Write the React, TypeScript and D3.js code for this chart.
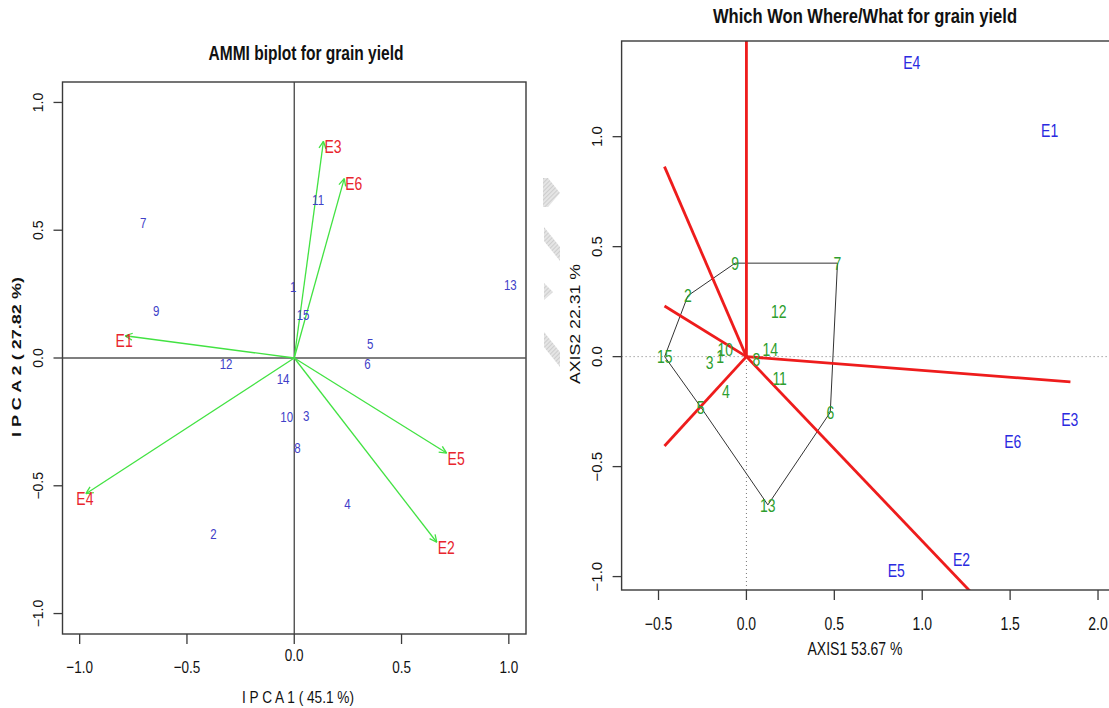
import { scaleLinear, format } from 'd3'

const FONT = '"Liberation Sans", Arial, Helvetica, sans-serif'
// the source picture is stretched vertically, so horizontal text gets a y-stretch
const SY = 1.28

// ---- left: AMMI biplot ----
const genotypes = ['1', '2', '3', '4', '5', '6', '7', '8', '9', '10', '11', '12', '13', '14', '15']
const ammiPC1 = [-0.005, -0.376, 0.056, 0.248, 0.354, 0.341, -0.704, 0.015, -0.643, -0.035, 0.111, -0.318, 1.007, -0.052, 0.041]
const ammiPC2 = [0.279, -0.689, -0.225, -0.572, 0.053, -0.025, 0.53, -0.353, 0.184, -0.229, 0.617, -0.025, 0.285, -0.082, 0.168]
const environments = ['E1', 'E2', 'E3', 'E4', 'E5', 'E6']
const ammiEnvPC1 = [-0.788, 0.664, 0.136, -0.971, 0.71, 0.233]
const ammiEnvPC2 = [0.087, -0.721, 0.848, -0.531, -0.372, 0.702]
const ammiTicks = [-1, -0.5, 0, 0.5, 1]

// ---- right: which won where ----
const ggeAxis1 = [-0.149, -0.333, -0.209, -0.117, -0.26, 0.477, 0.518, 0.057, -0.064, -0.12, 0.189, 0.184, 0.122, 0.136, -0.465]
const ggeAxis2 = [0.003, 0.277, -0.024, -0.158, -0.229, -0.253, 0.425, -0.014, 0.425, 0.034, -0.097, 0.205, -0.674, 0.032, 0.0]
const hullOrder = ['9', '7', '6', '13', '5', '15', '2']
const ggeEnvAxis1 = [1.725, 1.224, 1.839, 0.941, 0.852, 1.515]
const ggeEnvAxis2 = [1.03, -0.921, -0.285, 1.338, -0.97, -0.386]
const sectorX = [0, -0.466, -0.466, -0.466, 1.843, 1.33]
const sectorY = [1.6, 0.864, 0.23, -0.406, -0.115, -1.115]
const ggeXTicks = [-0.5, 0, 0.5, 1, 1.5, 2]
const ggeYTicks = [-1, -0.5, 0, 0.5, 1]

// grey hatched scan marks between the two panels (not data)
const scanMarks = [
  '543,178 548,178 560,193 548,207 543,207',
  '544,227 560,247 560,261 544,241',
  '544,283 553,292 544,300',
  '544,332 560,352 560,367 544,347',
]

const fmt = format('.1f')
const minus = (v: number) => fmt(v).replace('-', '\u2212')

type LabelProps = {
  x: number
  y: number
  children: any
  size: number
  color?: string
  anchor?: string
  weight?: string
  rotate?: number
  sy?: number
  length?: number
}

let Label = ({ x, y, children, size, color = '#111', anchor = 'middle', weight = 'normal', rotate = 0, sy = SY, length }: LabelProps) => (
  <text
    transform={`translate(${x},${y}) scale(1,${sy})${rotate ? ` rotate(${rotate})` : ''}`}
    textAnchor={anchor}
    dominantBaseline='central'
    fontSize={size}
    fontWeight={weight}
    fill={color}
    fontFamily={FONT}
    textLength={length}
    lengthAdjust={length ? 'spacingAndGlyphs' : undefined}
  >
    {children}
  </text>
)

let AmmiPanel = () => {
  let box = { left: 62.5, right: 526, top: 82, bottom: 634 }
  let x = scaleLinear().domain([-1.08, 1.08]).range([box.left, box.right])
  let y = scaleLinear().domain([-1.08, 1.08]).range([box.bottom, box.top])
  let green = '#42e242'

  return (
    <g>
      <Label x={306} y={53} size={15.5} weight='bold' length={195}>AMMI biplot for grain yield</Label>

      <rect x={box.left} y={box.top} width={box.right - box.left} height={box.bottom - box.top} fill='none' stroke='#3a3a3a' strokeWidth={1.4} />

      {/* zero lines */}
      <line x1={box.left} x2={box.right} y1={y(0)} y2={y(0)} stroke='#555' strokeWidth={1.6} />
      <line x1={x(0)} x2={x(0)} y1={box.top} y2={box.bottom} stroke='#444' strokeWidth={1.3} />

      {ammiTicks.map(t => (
        <g key={'x' + t}>
          <line x1={x(t)} x2={x(t)} y1={box.bottom} y2={box.bottom + 10} stroke='#3a3a3a' strokeWidth={1.3} />
          <Label x={x(t)} y={t === 0 ? 655 : 667} size={13.5}>{fmt(t)}</Label>
        </g>
      ))}
      {ammiTicks.map(t => (
        <g key={'y' + t}>
          <line x1={box.left - 9} x2={box.left} y1={y(t)} y2={y(t)} stroke='#3a3a3a' strokeWidth={1.3} />
          <Label x={37.5} y={y(t)} size={14} rotate={-90} sy={1}>{minus(t)}</Label>
        </g>
      ))}

      <Label x={298} y={697} size={13.5} length={112}>I P C A 1 ( 45.1 %)</Label>
      <Label x={16} y={357} size={13} weight='bold' rotate={-90} sy={1} length={160}>I P C A 2 ( 27.82 %)</Label>

      {/* environment vectors */}
      {environments.map((e, i) => {
        let x1 = x(0), y1 = y(0)
        let x2 = x(ammiEnvPC1[i]), y2 = y(ammiEnvPC2[i])
        let a = Math.atan2(y2 - y1, x2 - x1)
        let head = 8, spread = 0.45
        return (
          <g key={e}>
            <line x1={x1} y1={y1} x2={x2} y2={y2} stroke={green} strokeWidth={1.3} />
            <line x1={x2} y1={y2} x2={x2 - head * Math.cos(a - spread)} y2={y2 - head * Math.sin(a - spread)} stroke={green} strokeWidth={1.3} />
            <line x1={x2} y1={y2} x2={x2 - head * Math.cos(a + spread)} y2={y2 - head * Math.sin(a + spread)} stroke={green} strokeWidth={1.3} />
            <Label
              x={ammiEnvPC1[i] > 0 ? x2 + 1 : x2 - 1}
              y={y2 + 5}
              anchor={ammiEnvPC1[i] > 0 ? 'start' : 'middle'}
              size={14}
              color='#e8262e'
            >
              {e}
            </Label>
          </g>
        )
      })}

      {genotypes.map((g, i) => (
        <Label key={g} x={x(ammiPC1[i])} y={y(ammiPC2[i])} size={11.5} color='#4040c8'>{g}</Label>
      ))}
    </g>
  )
}

let WhichWonPanel = () => {
  let box = { left: 621.6, right: 1115.6, top: 41, bottom: 590 }
  let x = scaleLinear().domain([-0.71, 2.1]).range([box.left, box.right])
  let y = scaleLinear().domain([-1.061, 1.435]).range([box.bottom, box.top])
  let hull = hullOrder.map(g => genotypes.indexOf(g))
  let hullPath = hull.map((j, k) => `${k ? 'L' : 'M'}${x(ggeAxis1[j])},${y(ggeAxis2[j])}`).join('') + 'Z'

  return (
    <g>
      <Label x={865} y={16} size={16.5} weight='bold' length={304}>Which Won Where/What for grain yield</Label>

      <defs>
        <clipPath id='gge-clip'>
          <rect x={box.left} y={box.top} width={box.right - box.left} height={box.bottom - box.top} />
        </clipPath>
      </defs>

      {/* dotted origin lines */}
      <line x1={box.left} x2={box.right} y1={y(0)} y2={y(0)} stroke='#777' strokeWidth={1} strokeDasharray='1 3' />
      <line x1={x(0)} x2={x(0)} y1={box.top} y2={box.bottom} stroke='#777' strokeWidth={1} strokeDasharray='1 3' />

      <path d={hullPath} fill='none' stroke='#333' strokeWidth={1} />

      <g clipPath='url(#gge-clip)'>
        {sectorX.map((sx, i) => (
          <line key={i} x1={x(0)} y1={y(0)} x2={x(sx)} y2={y(sectorY[i])} stroke='#ee1c1c' strokeWidth={2.8} />
        ))}
      </g>

      <rect x={box.left} y={box.top} width={box.right - box.left} height={box.bottom - box.top} fill='none' stroke='#3a3a3a' strokeWidth={1.4} />

      {ggeXTicks.map(t => (
        <g key={'x' + t}>
          <line x1={x(t)} x2={x(t)} y1={box.bottom} y2={box.bottom + 10} stroke='#3a3a3a' strokeWidth={1.3} />
          <Label x={x(t)} y={623.5} size={14}>{minus(t)}</Label>
        </g>
      ))}
      {ggeYTicks.map(t => (
        <g key={'y' + t}>
          <line x1={box.left - 9} x2={box.left} y1={y(t)} y2={y(t)} stroke='#3a3a3a' strokeWidth={1.3} />
          <Label x={596.5} y={y(t)} size={15} rotate={-90} sy={1}>{minus(t)}</Label>
        </g>
      ))}

      <Label x={855} y={648} size={14} length={95}>AXIS1 53.67 %</Label>
      <Label x={574.5} y={324} size={14.5} rotate={-90} sy={1} length={120}>AXIS2 22.31 %</Label>

      {genotypes.map((g, i) => (
        <Label key={g} x={x(ggeAxis1[i])} y={y(ggeAxis2[i])} size={14} color='#2e9e2e'>{g}</Label>
      ))}
      {environments.map((e, i) => (
        <Label key={e} x={x(ggeEnvAxis1[i])} y={y(ggeEnvAxis2[i])} size={14} color='#2a2ae0'>{e}</Label>
      ))}
    </g>
  )
}

let App = () => {
  return (
    <svg
      width={1109}
      height={708}
      style={{ position: 'absolute', left: 0, top: 0, background: '#fff', fontFamily: FONT }}
    >
      <defs>
        <pattern id='hatch' width={3} height={3} patternUnits='userSpaceOnUse' patternTransform='rotate(45)'>
          <rect width={3} height={3} fill='#e4e4e4' />
          <line x1={0} y1={0} x2={0} y2={3} stroke='#c4c4c4' strokeWidth={1.4} />
        </pattern>
      </defs>
      <rect width={1109} height={708} fill='#fff' />
      {scanMarks.map((p, i) => (
        <polygon key={i} points={p} fill='url(#hatch)' />
      ))}
      <AmmiPanel />
      <WhichWonPanel />
    </svg>
  )
}

export default App
